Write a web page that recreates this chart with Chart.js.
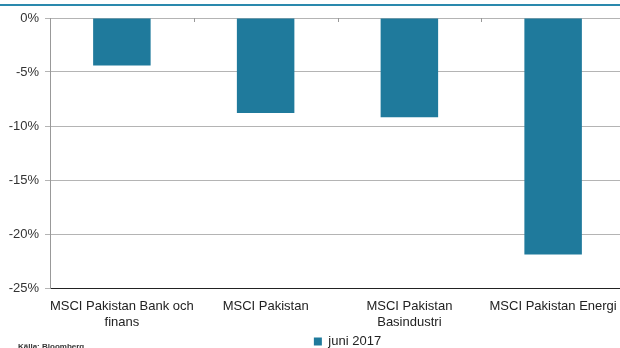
<!DOCTYPE html>
<html>
<head>
<meta charset="utf-8">
<script src="https://cdn.jsdelivr.net/npm/chart.js@4.4.0/dist/chart.umd.min.js"></script>
<style>
  html, body { margin: 0; padding: 0; background: #fff; overflow: hidden; }
  #wrap { position: relative; width: 620px; height: 348px; overflow: hidden; }
  #topline { position: absolute; left: 0; top: 4px; width: 620px; height: 0; border-top: 2px solid #2a89ad; }
  #source { position: absolute; left: 18px; top: 342px; font: bold 8px "Liberation Sans", Arial, sans-serif; color: #333; }
  canvas { position: absolute; left: 0; top: 0; }
</style>
</head>
<body>
<div id="wrap">
  <div id="topline"></div>
  <canvas id="chart" width="630" height="348"></canvas>
  <div id="source">Källa: Bloomberg</div>
</div>
<script>
// categories and values (percent change)
const categories = [
  ["MSCI Pakistan Bank och", "finans"],
  "MSCI Pakistan",
  ["MSCI Pakistan", "Basindustri"],
  "MSCI Pakistan Energi"
];
const seriesName = "juni 2017";
const values = [-4.4, -8.8, -9.2, -21.9];
const yTicks = [0, -5, -10, -15, -20, -25];

const barColor = "#1f7a9c";
const labelFont = "'Liberation Sans', Arial, sans-serif";

// small tick marks on the 0% line between categories
const catTicks = {
  id: "catTicks",
  afterDatasetsDraw(chart) {
    const ctx = chart.ctx;
    const x = chart.scales.x;
    const top = chart.chartArea.top;
    ctx.save();
    ctx.strokeStyle = "#999";
    ctx.lineWidth = 1;
    for (let i = 1; i < categories.length; i++) {
      const px = Math.round((x.getPixelForValue(i - 1) + x.getPixelForValue(i)) / 2) + 0.5;
      ctx.beginPath();
      ctx.moveTo(px, top);
      ctx.lineTo(px, top + 4);
      ctx.stroke();
    }
    ctx.restore();
  }
};

// legend in the original sits a bit right of centre
const legendShift = {
  id: "legendShift",
  afterLayout(chart) {
    if (chart.legend) {
      chart.legend.left += 35;
      chart.legend.right += 35;
    }
  }
};

new Chart(document.getElementById("chart").getContext("2d"), {
  type: "bar",
  data: {
    labels: categories,
    datasets: [{
      label: seriesName,
      data: values,
      backgroundColor: barColor,
      borderWidth: 0,
      categoryPercentage: 1.0,
      barPercentage: 0.4
    }]
  },
  options: {
    responsive: false,
    animation: false,
    layout: { padding: { top: 18, right: 5, left: 0, bottom: -10 } },
    plugins: {
      legend: {
        display: true,
        position: "bottom",
        labels: {
          boxWidth: 8,
          boxHeight: 8,
          padding: 2,
          color: "#222",
          font: { family: labelFont, size: 13 }
        }
      },
      tooltip: { enabled: false }
    },
    scales: {
      x: {
        afterFit: function (scale) { scale.height = 45; },
        grid: { display: false, drawTicks: false },
        border: { display: true, color: "#222", width: 1 },
        ticks: {
          color: "#222",
          maxRotation: 0,
          autoSkip: false,
          padding: 10,
          font: { family: labelFont, size: 13, lineHeight: 1.23 }
        }
      },
      y: {
        min: -25,
        max: 0,
        afterFit: function (scale) { scale.width = 50; },
        afterBuildTicks: function (scale) { scale.ticks = yTicks.map(v => ({ value: v })); },
        grid: { color: "#b4b4b4", lineWidth: 1, tickLength: 5, drawTicks: true },
        border: { display: true, color: "#999", width: 1 },
        ticks: {
          color: "#333",
          padding: 6,
          font: { family: labelFont, size: 13 },
          callback: v => v + "%"
        }
      }
    }
  },
  plugins: [catTicks, legendShift]
});
</script>
</body>
</html>
